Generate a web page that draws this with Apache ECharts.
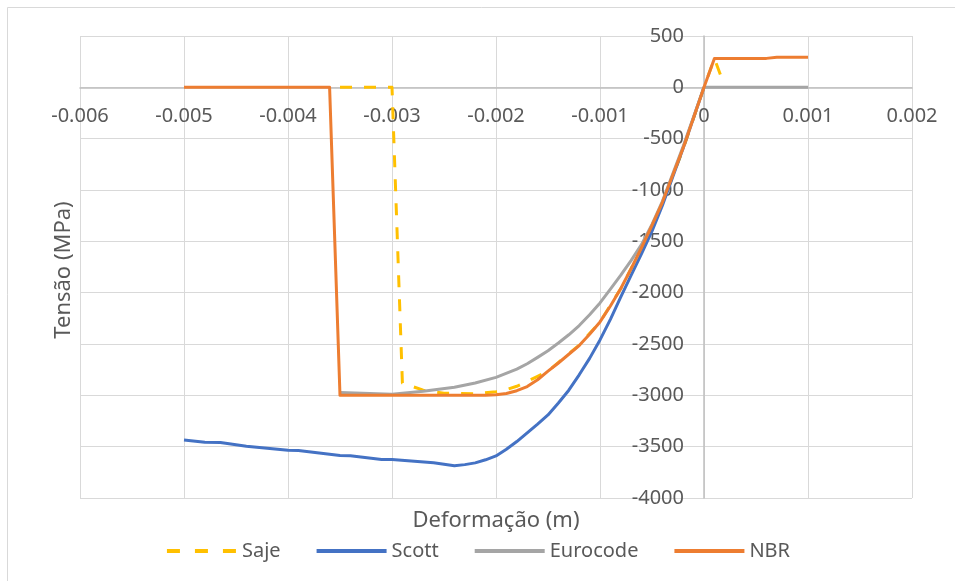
<!DOCTYPE html>
<html>
<head>
<meta charset="utf-8">
<script src="https://cdn.jsdelivr.net/npm/echarts@6/dist/echarts.min.js"></script>
<style>
html,body{margin:0;padding:0;background:#fff;}
#chart{width:955px;height:581px;}
</style>
</head>
<body>
<div id="chart"></div>
<script>
// Data (deformation in m, stress in MPa)
const sajeData = [[-0.0035,0],[-0.0030,0],[-0.0029,-2880],[-0.0027,-2950],[-0.0025,-2980],[-0.0022,-2985],[-0.0020,-2965],[-0.0019,-2945],[-0.0018,-2912],[-0.0017,-2865],[-0.0016,-2815],[-0.0015,-2765],[-0.0012,-2510],[-0.0010,-2285],[-0.0008,-1960],[-0.0006,-1568],[-0.0004,-1130],[-0.0002,-600],[0,0],[0.0001,280],[0.00017,90]];
const scottData = [[-0.0050,-3434],[-0.0048,-3456],[-0.00465,-3459],[-0.0044,-3495],[-0.0043,-3505],[-0.0040,-3534],[-0.0039,-3537],[-0.0035,-3586],[-0.0034,-3589],[-0.0031,-3625],[-0.0030,-3625],[-0.0026,-3657],[-0.0024,-3686],[-0.0023,-3675],[-0.0022,-3658],[-0.0021,-3628],[-0.0020,-3590],[-0.0019,-3525],[-0.0018,-3450],[-0.0017,-3365],[-0.0016,-3280],[-0.0015,-3191],[-0.0014,-3075],[-0.0013,-2950],[-0.0012,-2800],[-0.0011,-2640],[-0.0010,-2460],[-0.0009,-2260],[-0.0008,-2040],[-0.0007,-1830],[-0.0006,-1620],[-0.0005,-1400],[-0.0004,-1150],[-0.0002,-590],[0,0]];
const eurocodeData = [[-0.0035,-2972],[-0.0030,-2990],[-0.0027,-2961],[-0.0024,-2922],[-0.0022,-2880],[-0.0020,-2825],[-0.0018,-2745],[-0.0017,-2692],[-0.0016,-2630],[-0.0015,-2565],[-0.0014,-2490],[-0.0013,-2410],[-0.0012,-2320],[-0.0011,-2215],[-0.0010,-2100],[-0.0009,-1965],[-0.0008,-1830],[-0.0007,-1685],[-0.0006,-1530],[-0.0005,-1335],[-0.0004,-1110],[-0.0002,-575],[0,0],[0.0010,0]];
const nbrData = [[-0.0050,0],[-0.0036,0],[-0.0035,-3000],[-0.0030,-3000],[-0.0025,-3000],[-0.0022,-3000],[-0.0021,-2999],[-0.0020,-2995],[-0.0019,-2982],[-0.0018,-2955],[-0.0017,-2915],[-0.0016,-2848],[-0.0015,-2765],[-0.0014,-2685],[-0.0013,-2600],[-0.0012,-2515],[-0.0011,-2405],[-0.0010,-2285],[-0.0009,-2130],[-0.0008,-1960],[-0.0007,-1765],[-0.0006,-1560],[-0.0005,-1345],[-0.0004,-1120],[-0.0002,-590],[0,0],[0.0001,280],[0.0006,282],[0.0007,292],[0.0010,292]];
const seriesNames = ['Saje','Scott','Eurocode','NBR'];
const xTicks = {min:-0.006, max:0.002, interval:0.001};
const yTicks = {min:-4000, max:500, interval:500};

const FONT = 'Noto Sans';
const chart = echarts.init(document.getElementById('chart'), null, {renderer:'canvas'});
const colors = ['#FFC000','#4472C4','#A5A5A5','#ED7D31'];
const datas = [sajeData, scottData, eurocodeData, nbrData];
const G = {left:80, top:36, width:832, height:462};
// offsets that place each axis on the other's zero
const xZeroPx = G.width * (0 - xTicks.min) / (xTicks.max - xTicks.min);
const yZeroPx = G.height * (yTicks.max - 0) / (yTicks.max - yTicks.min);
chart.setOption({
  animation:false,
  backgroundColor:'#fff',
  grid:Object.assign({containLabel:false}, G),
  xAxis:{type:'value', min:xTicks.min, max:xTicks.max, interval:xTicks.interval,
    position:'bottom', offset:-(G.height - yZeroPx),
    axisLine:{onZero:false, lineStyle:{color:'#bfbfbf', width:1.5}},
    axisTick:{show:false},
    splitLine:{show:true, lineStyle:{color:'#d9d9d9', width:1}},
    axisLabel:{color:'#595959', fontFamily:FONT, fontSize:20, margin:19,
      formatter:v=>{ const r=Math.round(v*1000)/1000; return r===0?'0':String(r);} }
  },
  yAxis:{type:'value', min:yTicks.min, max:yTicks.max, interval:yTicks.interval,
    position:'left', offset:-xZeroPx,
    axisLine:{show:true, onZero:false, lineStyle:{color:'#bfbfbf', width:1.5}},
    axisTick:{show:false},
    splitLine:{show:true, lineStyle:{color:'#d9d9d9', width:1}},
    axisLabel:{color:'#595959', fontFamily:FONT, fontSize:20, margin:20, formatter:v=>String(v)}
  },
  legend:{data:seriesNames.map((n,i)=> i===0 ? {name:n, lineStyle:{type:[13,15]}} : n),
    left:'center', top:536, itemWidth:70, itemHeight:4, itemGap:34,
    itemStyle:{opacity:0},
    lineStyle:{width:4},
    textStyle:{color:'#595959', fontFamily:FONT, fontSize:20}},
  graphic:[
    {type:'rect', shape:{x:7.5,y:7.5,width:1000,height:1000}, style:{fill:'none', stroke:'#d9d9d9', lineWidth:1}, silent:true, z:-10},
    {type:'text', x:496, y:521, style:{text:'Deformação (m)', fill:'#595959', font:'22px "Noto Sans"', align:'center', verticalAlign:'middle'}},
    {type:'text', x:64, y:270, rotation:Math.PI/2, style:{text:'Tensão (MPa)', fill:'#595959', font:'22px "Noto Sans"', align:'center', verticalAlign:'middle'}}
  ],
  series: seriesNames.map((n,i)=>({
    name:n, type:'line', data:datas[i], showSymbol:false, symbol:'none',
    color:colors[i],
    lineStyle:{color:colors[i], width:3, type: i===0 ? [12,12] : 'solid', cap:'butt', join:'round'},
    z: 2+i
  }))
});
</script>
</body>
</html>
